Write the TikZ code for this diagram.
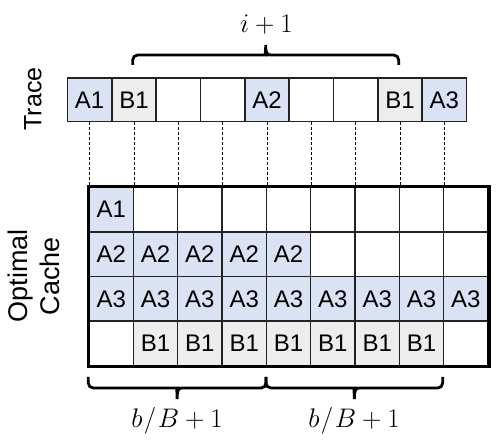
\documentclass[tikz,border=0pt]{standalone}
\usepackage{fontspec}
\setmainfont{Liberation Sans}
\definecolor{cblue}{HTML}{DAE3F3}
\definecolor{cgray}{HTML}{EDEDED}
\definecolor{cline}{HTML}{222222}
% horizontal brace: #1=x1, #2=x2, #3=y of ends, #4=signed amplitude (negative = points up)
\newcommand{\hbrace}[4]{%
  \draw[brc] (#1,#3) [rounded corners=5pt] -- (#1,{#3+#4/2}) -- ({(#1+#2)/2-5},{#3+#4/2})
    [sharp corners] .. controls ({(#1+#2)/2-1},{#3+#4/2}) and ({(#1+#2)/2},{#3+#4*0.62}) .. ({(#1+#2)/2},{#3+#4})
    .. controls ({(#1+#2)/2},{#3+#4*0.62}) and ({(#1+#2)/2+1},{#3+#4/2}) .. ({(#1+#2)/2+5},{#3+#4/2})
    [rounded corners=5pt] -- (#2,{#3+#4/2}) -- (#2,#3);}
\begin{document}
\begin{tikzpicture}[x=1pt,y=-1pt,
  cell/.style={draw=cline, line width=1.5pt, minimum width=44.33pt, minimum height=44.57pt,
    inner sep=0pt, anchor=north west, font=\fontsize{24}{28}\selectfont},
  tcell/.style={cell, minimum height=43.4pt},
  guide/.style={draw=black, line width=0.7pt, dash pattern=on 2.5pt off 2.5pt},
  brc/.style={draw=black, line width=2.8pt, line cap=butt},
  lbl/.style={font=\fontsize{25}{30}\selectfont, rotate=90, align=center},
  mlbl/.style={font=\fontsize{24.88}{30}\selectfont}]
\useasboundingbox (0,0) rectangle (498,443);
% trace row
\foreach \t/\f [count=\k] in {A1/cblue,B1/cgray,{}/white,{}/white,A2/cblue,{}/white,{}/white,B1/cgray,A3/cblue}
  \node[tcell, fill=\f] (t\k) at ({66.7+(\k-1)*44.33},77.3) {\t};
% cache rows
\foreach \t/\f [count=\k] in {A1/cblue,{}/white,{}/white,{}/white,{}/white,{}/white,{}/white,{}/white,{}/white}
  \node[cell, fill=\f] (c1-\k) at ({88.3+(\k-1)*44.33},186.7) {\t};
\foreach \t/\f [count=\k] in {A2/cblue,A2/cblue,A2/cblue,A2/cblue,A2/cblue,{}/white,{}/white,{}/white,{}/white}
  \node[cell, fill=\f] (c2-\k) at ({88.3+(\k-1)*44.33},{186.7+44.57}) {\t};
\foreach \t/\f [count=\k] in {A3/cblue,A3/cblue,A3/cblue,A3/cblue,A3/cblue,A3/cblue,A3/cblue,A3/cblue,A3/cblue}
  \node[cell, fill=\f] (c3-\k) at ({88.3+(\k-1)*44.33},{186.7+2*44.57}) {\t};
\foreach \t/\f [count=\k] in {{}/white,B1/cgray,B1/cgray,B1/cgray,B1/cgray,B1/cgray,B1/cgray,B1/cgray,{}/white}
  \node[cell, fill=\f] (c4-\k) at ({88.3+(\k-1)*44.33},{186.7+3*44.57}) {\t};
\draw[line width=3.5pt, line join=miter] (c1-1.north west) rectangle (c4-9.south east);
% dashed guides
\foreach \k in {1,...,9}
  \draw[guide] (t\k.south) -- (t\k.south |- c1-1.north);
% braces
\hbrace{132.7}{398.7}{65}{-20}
\hbrace{88.3}{266}{377}{22}
\hbrace{266}{442.7}{377}{22}
% labels
\node[mlbl] (itop) at (266.5,25) {\scalebox{1.08}{$i+1$}};
\node[mlbl] (bl1) at (177,421) {\scalebox{1.08}{$b\mkern1mu/\mkern1mu B+1$}};
\node[mlbl] (bl2) at (354,421) {\scalebox{1.08}{$b\mkern1mu/\mkern1mu B+1$}};
\node[lbl] (trace) at (33,99) {Trace};
\node[lbl, font=\fontsize{27}{32}\selectfont] (ocache) at (34,276) {Optimal\\Cache};
\end{tikzpicture}
\end{document}
